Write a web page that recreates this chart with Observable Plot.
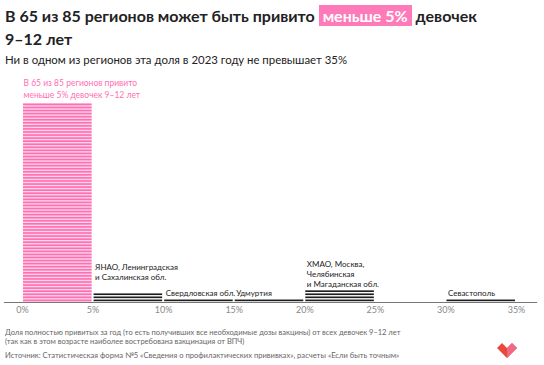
<!DOCTYPE html>
<html><head><meta charset="utf-8">
<script src="https://cdn.jsdelivr.net/npm/d3@7"></script>
<script src="https://cdn.jsdelivr.net/npm/@observablehq/plot@0.6"></script>
<style>
body{margin:0;background:#fff;}
#wrap{position:relative;width:544px;height:365px;font-family:Lato,"Noto Sans",sans-serif;color:#222;overflow:hidden;}
#title{position:absolute;left:5px;top:4px;font-size:16px;line-height:23px;font-weight:700;white-space:nowrap;color:#222;}
#title .hl{background:#ff7ab8;color:#fff;padding:1px 4px;}
#sub{position:absolute;left:5px;top:53px;font-size:11.4px;color:#222;white-space:nowrap;}
#chart{position:absolute;left:0;top:70px;}
#foot{position:absolute;left:5px;top:328px;font-size:7.5px;line-height:9px;color:#666;white-space:nowrap;}
#foot .src{margin-top:5px;font-size:7.6px;}
#logo{position:absolute;left:495px;top:342px;}
</style></head>
<body><div id="wrap">
<div id="title">В 65 из 85 регионов может быть привито <span class="hl">меньше 5%</span> девочек<br>9–12 лет</div>
<div id="sub">Ни в одном из регионов эта доля в 2023 году не превышает 35%</div>
<div id="chart"></div>
<div id="foot"><div>Доля полностью привитых за год (то есть получивших все необходимые дозы вакцины) от всех девочек 9–12 лет</div><div>(так как в этом возрасте наиболее востребована вакцинация от ВПЧ)</div><div class="src">Источник: Статистическая форма №5 «Сведения о профилактических прививках», расчеты «Если быть точным»</div></div>
<svg id="logo" width="26" height="20" viewBox="0 0 26 20"><path d="M2 6 L7 1 L12 6 L17 1 L22 6 L12 16 Z" fill="#e8493b"/><path d="M12 6 L17 1 L22 6 L12 16 Z" fill="#f0708e" opacity="0.85"/></svg>
</div>
<script>
const binStarts = [0, 5, 10, 15, 20, 25, 30];
const binCounts = [65, 3, 1, 1, 4, 0, 1];
const binLabels = [
  "В 65 из 85 регионов привито\nменьше 5% девочек 9–12 лет",
  "ЯНАО, Ленинградская\nи Сахалинская обл.",
  "Свердловская обл.",
  "Удмуртия",
  "ХМАО, Москва,\nЧелябинская\nи Магаданская обл.",
  "",
  "Севастополь"
];
const xTicks = [0, 5, 10, 15, 20, 25, 30, 35];

const rows = [];
binStarts.forEach((s, b) => {
  for (let i = 0; i < binCounts[b]; i++) rows.push({x1: s, x2: s + 5, y1: i, y2: i + 1, bin: b});
});
const bins = binStarts.map((s, b) => ({x: s, n: binCounts[b], label: binLabels[b], bin: b}));

const pink = "#ff6fb3";
const chart = Plot.plot({
  width: 544, height: 250,
  marginLeft: 22, marginRight: 28, marginTop: 33, marginBottom: 18,
  x: {domain: [0, 35]},
  y: {domain: [0, 65], axis: null},
  style: {fontFamily: "Lato, 'Noto Sans', sans-serif"},
  marks: [
    Plot.rectY(bins.filter(d => d.bin === 0), {x1: "x", x2: d => d.x + 5, y1: 0, y2: "n", fill: "#ffd3e8", insetLeft: 1, insetRight: 1}),
    Plot.rectY(rows, {x1: "x1", x2: "x2", y1: "y1", y2: "y2", fill: d => d.bin === 0 ? pink : "#1e1e1e", insetLeft: 1, insetRight: 1, insetTop: 0.6, insetBottom: 0.8}),
    Plot.ruleY([0], {x1: -1.28, x2: 36.5, stroke: "#777", strokeWidth: 1}),
    Plot.axisX(xTicks, {tickSize: 0, tickPadding: 4, tickFormat: d => d + "%", fill: "#888", fontSize: 9, stroke: null}),
    Plot.text(bins.filter(d => d.label && d.bin !== 1 && d.bin !== 0), {x: "x", y: "n", text: "label", textAnchor: "start", lineAnchor: "bottom", dx: 2, dy: -3, fontSize: 8, lineHeight: 1.25, fill: "#222"}),
    Plot.text(bins.filter(d => d.bin === 1), {x: "x", y: "n", text: "label", textAnchor: "start", lineAnchor: "bottom", dx: 2, dy: -13, fontSize: 8, lineHeight: 1.3, fill: "#222"}),
    Plot.text(bins.filter(d => d.bin === 0), {x: "x", y: "n", text: "label", textAnchor: "start", lineAnchor: "bottom", dx: 1, dy: -6, fontSize: 8.5, lineHeight: 1.3, fill: pink})
  ]
});
document.getElementById("chart").appendChild(chart);
</script>
</body></html>
